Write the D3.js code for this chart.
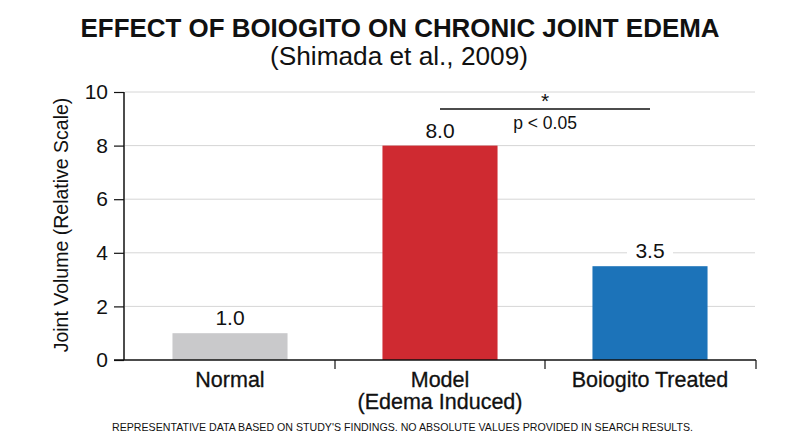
<!DOCTYPE html>
<html>
<head>
<meta charset="utf-8">
<script src="https://cdn.jsdelivr.net/npm/d3@7"></script>
<style>
  body { margin: 0; background: #fff; }
  text { font-family: "Liberation Sans", Arial, sans-serif; fill: #111; }
</style>
</head>
<body>
<svg id="s"></svg>
<script>
var categories = ['Normal', 'Model\n(Edema Induced)', 'Boiogito Treated'];
var values = [1.0, 8.0, 3.5];
var colors = ['#c9c9cb', '#cf2a31', '#1c73b9'];
var yTicks = [0, 2, 4, 6, 8, 10];

var W = 800, H = 436;
var s = d3.select('#s').attr('width', W).attr('height', H);

var x = d3.scaleBand()
  .domain(categories)
  .range([125, 755])
  .paddingInner(0.452)
  .paddingOuter(0.226);

var y = d3.scaleLinear().domain([0, 10]).range([360, 92]);

// title
s.append('text')
  .attr('x', 400).attr('y', 37)
  .attr('text-anchor', 'middle')
  .attr('textLength', 639)
  .attr('lengthAdjust', 'spacingAndGlyphs')
  .style('font-weight', 'bold')
  .style('font-size', '26.5px')
  .text('EFFECT OF BOIOGITO ON CHRONIC JOINT EDEMA');

s.append('text')
  .attr('x', 399).attr('y', 65)
  .attr('text-anchor', 'middle')
  .attr('textLength', 258)
  .attr('lengthAdjust', 'spacingAndGlyphs')
  .style('font-size', '25.5px')
  .text('(Shimada et al., 2009)');

// grid
s.selectAll('line.grid')
  .data(yTicks.filter(function(d){return d > 0;}))
  .enter()
  .append('line')
  .attr('class', 'grid')
  .attr('x1', 125).attr('x2', 755)
  .attr('y1', function(d){return y(d);})
  .attr('y2', function(d){return y(d);})
  .attr('stroke', '#d6d6d6')
  .attr('stroke-width', 1);

// bars
s.selectAll('rect.bar')
  .data(values)
  .enter()
  .append('rect')
  .attr('class', 'bar')
  .attr('x', function(d, i){return x(categories[i]);})
  .attr('width', x.bandwidth())
  .attr('y', function(d){return y(d);})
  .attr('height', function(d){return y(0) - y(d);})
  .attr('fill', function(d, i){return colors[i];});

// value labels (white backing breaks the gridline)
var vals = s.selectAll('g.val')
  .data(values)
  .enter()
  .append('g')
  .attr('class', 'val')
  .attr('transform', function(d, i){
    return 'translate(' + (x(categories[i]) + x.bandwidth() / 2) + ',' + (y(d) - 8) + ')';
  });
vals.append('rect')
  .attr('x', -23).attr('y', -18).attr('width', 46).attr('height', 20)
  .attr('fill', '#fff');
vals.append('text')
  .attr('text-anchor', 'middle')
  .style('font-size', '21px')
  .text(function(d){return d.toFixed(1);});

// y axis
var yAxis = s.append('g')
  .attr('transform', 'translate(124,0)')
  .call(d3.axisLeft(y).tickValues(yTicks).tickSize(10).tickPadding(6));
yAxis.select('.domain').attr('d', 'M0,' + y(10) + 'V' + y(0)).attr('stroke', '#111').attr('stroke-width', 1.5);
yAxis.selectAll('.tick line').attr('stroke', '#111').attr('stroke-width', 1.2);
yAxis.selectAll('.tick text')
  .style('font-family', '"Liberation Sans", Arial, sans-serif')
  .style('font-size', '21px')
  .attr('fill', '#111');

// x axis line + dividers
s.append('line')
  .attr('x1', 114).attr('x2', 756)
  .attr('y1', y(0)).attr('y2', y(0))
  .attr('stroke', '#111').attr('stroke-width', 1.5);

var bounds = categories.slice(1).map(function(d){return x(d) - x.step() * x.paddingInner() / 2;});
bounds.push(756);
s.selectAll('line.div')
  .data(bounds)
  .enter()
  .append('line')
  .attr('class', 'div')
  .attr('x1', function(d){return d;})
  .attr('x2', function(d){return d;})
  .attr('y1', y(0)).attr('y2', y(0) + 9)
  .attr('stroke', '#111').attr('stroke-width', 1.2);

// category labels
var cat = s.selectAll('text.cat')
  .data(categories)
  .enter()
  .append('text')
  .attr('class', 'cat')
  .attr('text-anchor', 'middle')
  .style('font-size', '21.5px')
  .style('stroke', '#111')
  .style('stroke-width', '0.3px')
  .attr('x', function(d){return x(d) + x.bandwidth() / 2;})
  .attr('y', 387);
cat.selectAll('tspan')
  .data(function(d){return d.split('\n');})
  .enter()
  .append('tspan')
  .attr('x', function(){return d3.select(this.parentNode).attr('x');})
  .attr('dy', function(d, i){return i === 0 ? 0 : 22;})
  .text(function(d){return d;});

// y axis label
s.append('text')
  .attr('transform', 'translate(68,' + (y(5) - 1) + ') rotate(-90)')
  .attr('text-anchor', 'middle')
  .style('font-size', '19.5px')
  .text('Joint Volume (Relative Scale)');

// significance bracket
var x1 = x(categories[1]) + x.bandwidth() / 2;
var x2 = x(categories[2]) + x.bandwidth() / 2;
s.append('line')
  .attr('x1', x1).attr('x2', x2)
  .attr('y1', 109).attr('y2', 109)
  .attr('stroke', '#111').attr('stroke-width', 1.5);
s.append('text')
  .attr('x', (x1 + x2) / 2).attr('y', 108)
  .attr('text-anchor', 'middle')
  .style('font-size', '21px')
  .text('*');
s.append('text')
  .attr('x', (x1 + x2) / 2).attr('y', 129)
  .attr('text-anchor', 'middle')
  .style('font-size', '17.5px')
  .text('p < 0.05');

// footnote
s.append('text')
  .attr('x', 402.5).attr('y', 431)
  .attr('text-anchor', 'middle')
  .attr('textLength', 581)
  .attr('lengthAdjust', 'spacingAndGlyphs')
  .style('font-size', '10.8px')
  .text("REPRESENTATIVE DATA BASED ON STUDY'S FINDINGS. NO ABSOLUTE VALUES PROVIDED IN SEARCH RESULTS.");
</script>
</body>
</html>
